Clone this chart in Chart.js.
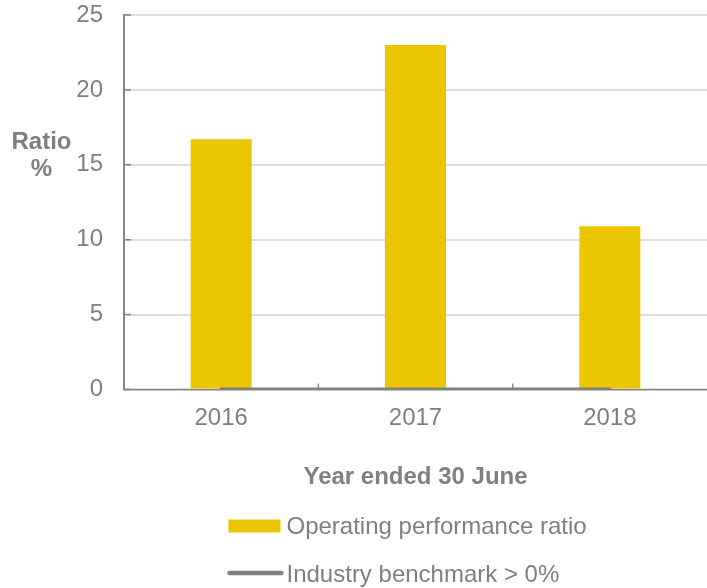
<!DOCTYPE html>
<html>
<head>
<meta charset="utf-8">
<script src="https://cdn.jsdelivr.net/npm/chart.js@4"></script>
<style>
  html, body { margin: 0; padding: 0; background: #fff; }
  #wrap { width: 707px; height: 588px; position: relative; }
</style>
</head>
<body>
<div id="wrap"><canvas id="ratioChart"></canvas></div>
<script>
const years = ['2016', '2017', '2018'];
const operatingRatio = [16.7, 23.0, 10.9];
const benchmark = [0, 0, 0];
const yTicks = [0, 5, 10, 15, 20, 25];

const GREY = '#7f7f7f';
const AXIS = '#868686';
const FONT = "'Liberation Sans', Arial, sans-serif";

// small inward tick marks on both axes, like the spreadsheet original
const axisTicks = {
    id: 'axisTicks',
    beforeDatasetsDraw(chart) {
        const { ctx, scales: { x, y } } = chart;
        ctx.save();
        ctx.strokeStyle = AXIS;
        ctx.lineWidth = 1.5;
        ctx.beginPath();
        for (let i = 1; i < years.length; i++) {
            const px = (x.getPixelForTick(i - 1) + x.getPixelForTick(i)) / 2;
            ctx.moveTo(px, y.bottom);
            ctx.lineTo(px, y.bottom - 6);
        }
        yTicks.forEach(v => {
            const py = y.getPixelForValue(v);
            ctx.moveTo(x.left, py);
            ctx.lineTo(x.left + 7, py);
        });
        ctx.stroke();
        ctx.restore();
    }
};

// "Ratio %" label and stacked legend
const extras = {
    id: 'extras',
    afterDraw(chart) {
        const { ctx } = chart;
        ctx.save();
        ctx.fillStyle = GREY;
        ctx.textAlign = 'center';
        ctx.textBaseline = 'alphabetic';
        ctx.font = 'bold 24px ' + FONT;
        ctx.fillText('Ratio', 41.5, 149);
        ctx.fillText('%', 41.5, 176);

        const left = chart.width / 2 - 125;
        const rows = [chart.height - 62, chart.height - 14];
        ctx.textAlign = 'left';
        ctx.textBaseline = 'middle';
        ctx.font = '24px ' + FONT;
        const order = [1, 0];
        order.forEach((di, r) => {
            const ds = chart.data.datasets[di];
            const cy = rows[r];
            if (ds.type === 'line') {
                ctx.strokeStyle = ds.borderColor;
                ctx.lineWidth = 4.5;
                ctx.lineCap = 'round';
                ctx.beginPath();
                ctx.moveTo(left + 1, cy - 1);
                ctx.lineTo(left + 53, cy - 1);
                ctx.stroke();
            } else {
                ctx.fillStyle = ds.backgroundColor;
                ctx.fillRect(left, cy - 6.5, 52, 13);
            }
            ctx.fillStyle = GREY;
            ctx.fillText(ds.label, left + 58, cy + 1);
        });
        ctx.restore();
    }
};

new Chart(document.getElementById('ratioChart'), {
    data: {
        labels: years,
        datasets: [
            {
                type: 'line',
                label: 'Industry benchmark > 0%',
                data: benchmark,
                borderColor: '#808080',
                borderWidth: 4,
                borderCapStyle: 'round',
                pointRadius: 0,
                order: 0
            },
            {
                type: 'bar',
                label: 'Operating performance ratio',
                data: operatingRatio,
                backgroundColor: '#ebc500',
                barPercentage: 0.314,
                categoryPercentage: 1,
                order: 1
            }
        ]
    },
    options: {
        responsive: true,
        maintainAspectRatio: false,
        animation: false,
        layout: { padding: { top: 15, left: 0, right: 0, bottom: 96 } },
        plugins: {
            legend: { display: false },
            tooltip: { enabled: false }
        },
        scales: {
            x: {
                grid: { display: false, drawTicks: false },
                border: { display: true, color: AXIS, width: 1.5 },
                ticks: { color: GREY, padding: 15, font: { family: FONT, size: 24 } },
                title: {
                    display: true,
                    text: 'Year ended 30 June',
                    color: GREY,
                    font: { family: FONT, size: 24, weight: 'bold' },
                    padding: { top: 15, bottom: 0 }
                }
            },
            y: {
                min: 0,
                max: 25,
                afterFit: s => {
                    s.width = 124;
                    s.paddingTop = 0;
                    s.paddingBottom = 0;
                },
                afterBuildTicks: s => { s.ticks = yTicks.map(v => ({ value: v })); },
                grid: { color: '#dedede', lineWidth: 2, drawTicks: false },
                border: { display: true, color: AXIS, width: 2 },
                ticks: { color: GREY, padding: 21, font: { family: FONT, size: 24 } }
            }
        }
    },
    plugins: [axisTicks, extras]
});
</script>
</body>
</html>
